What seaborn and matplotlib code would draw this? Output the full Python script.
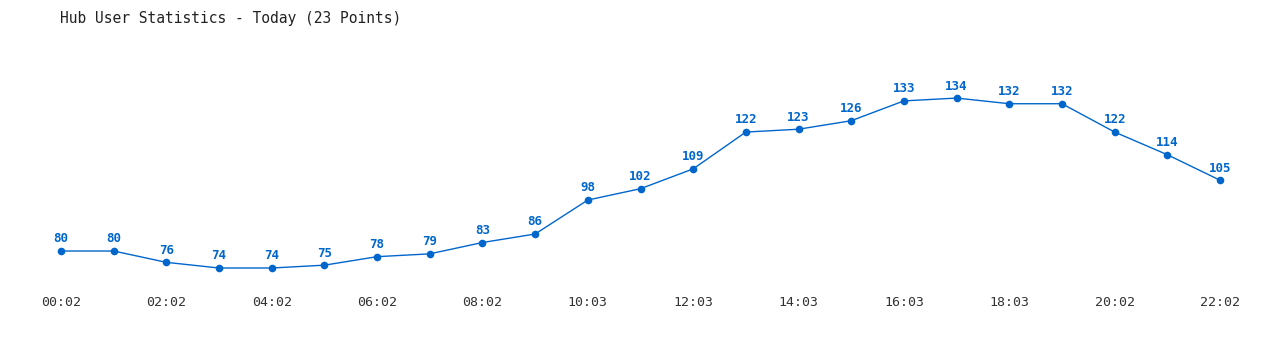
import matplotlib
matplotlib.use("Agg")
import matplotlib.pyplot as plt
import seaborn as sns
import pandas as pd

times = ["00:02", "01:02", "02:02", "03:02", "04:02", "05:02", "06:02", "07:02",
         "08:02", "09:03", "10:03", "11:03", "12:03", "13:03", "14:03", "15:03",
         "16:03", "17:03", "18:03", "19:02", "20:02", "21:02", "22:02"]
users = [80, 80, 76, 74, 74, 75, 78, 79, 83, 86, 98, 102, 109, 122, 123, 126,
         133, 134, 132, 132, 122, 114, 105]

df = pd.DataFrame({"idx": range(len(times)), "time": times, "users": users})

sns.set_theme(style="white")
plt.rcParams['font.family'] = ['DejaVu Sans Mono', 'DejaVu Sans']

color = "#0066CC"
fig = plt.figure(figsize=(12.8, 3.5), dpi=100)
W, H = 1280, 350
# axes spans x 61..1220 px, y 40..285 px
ax = fig.add_axes([61 / W, (H - 285) / H, (1220 - 61) / W, (285 - 40) / H])

sns.lineplot(data=df, x="idx", y="users", ax=ax, color=color, linewidth=1,
             marker="o", markersize=5.5, markeredgewidth=0, clip_on=False)

for i, v in zip(df["idx"], df["users"]):
    ax.annotate(str(v), (i, v), xytext=(0, 4), textcoords="offset points",
                ha="center", va="bottom", color=color, fontsize=9,
                fontweight="bold", annotation_clip=False)

ax.set_xlim(0, len(times) - 1)
ax.set_ylim(68, 154.5)
ax.set_xticks(df["idx"][::2])
ax.set_xticklabels(df["time"][::2], fontsize=9.5, color="#333333")
ax.tick_params(axis="x", length=0, pad=8)
ax.set_yticks([])
ax.set_xlabel("")
ax.set_ylabel("")
for s in ax.spines.values():
    s.set_visible(False)

fig.text(60 / W, 1 - 18 / H, "Hub User Statistics - Today (23 Points)",
         fontsize=10.5, color="#222222", ha="left", va="center")

fig.savefig("out.png", dpi=100, facecolor="white")
